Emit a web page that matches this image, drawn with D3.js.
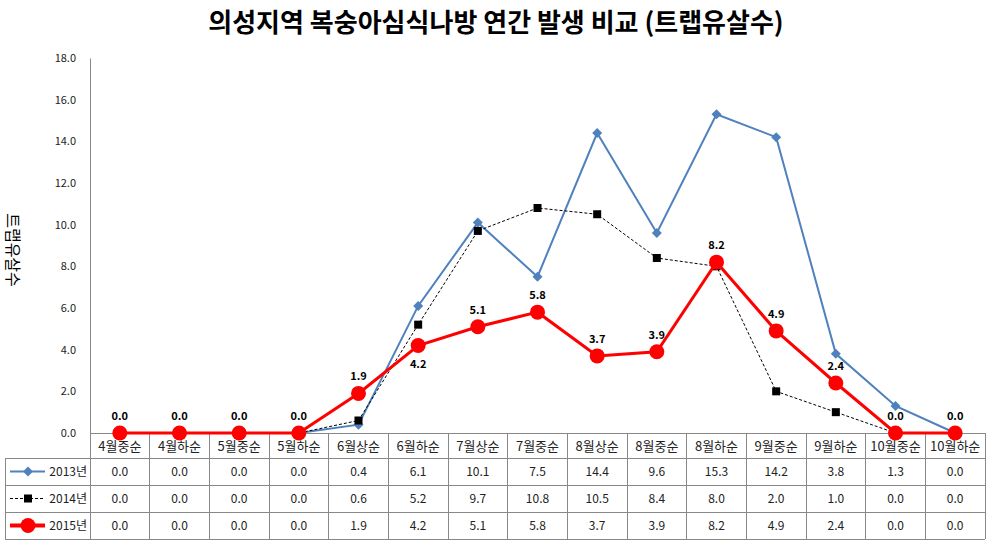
<!DOCTYPE html>
<meta charset="utf-8">
<style>
    body { margin: 0; background: #fff; }
    text { font-family: "Noto Sans CJK KR", "Noto Sans", sans-serif; }
    .tick text { font-size: 11px; fill: #222; }
    .cell { font-size: 12px; fill: #222; }
    .lbl { font-size: 11px; font-weight: bold; fill: #000; }
</style>
<body>
<script src="https://d3js.org/d3.v7.min.js"></script>
<script>
    var categories = ["4월중순", "4월하순", "5월중순", "5월하순", "6월상순", "6월하순", "7월상순", "7월중순",
        "8월상순", "8월중순", "8월하순", "9월중순", "9월하순", "10월중순", "10월하순"];
    var y2013 = [0.0, 0.0, 0.0, 0.0, 0.4, 6.1, 10.1, 7.5, 14.4, 9.6, 15.3, 14.2, 3.8, 1.3, 0.0];
    var y2014 = [0.0, 0.0, 0.0, 0.0, 0.6, 5.2, 9.7, 10.8, 10.5, 8.4, 8.0, 2.0, 1.0, 0.0, 0.0];
    var y2015 = [0.0, 0.0, 0.0, 0.0, 1.9, 4.2, 5.1, 5.8, 3.7, 3.9, 8.2, 4.9, 2.4, 0.0, 0.0];
    var seriesNames = ["2013년", "2014년", "2015년"];
    var yTicks = [0, 2, 4, 6, 8, 10, 12, 14, 16, 18];
    // label placement for 2015 values (1 = above, -1 = below)
    var labelSide = [1, 1, 1, 1, 1, -1, 1, 1, 1, 1, 1, 1, 1, 1, 1];

    var W = 992, H = 545;
    var pL = 90, pR = 985, pT = 58, pB = 433;
    var rowH = 27;

    var svg = d3.select("body").append("svg").attr("width", W).attr("height", H);

    var x = d3.scaleBand().domain(categories).range([pL, pR]);
    var y = d3.scaleLinear().domain([0, 18]).range([pB, pT]);

    svg.append("text")
        .attr("x", 496).attr("y", 32)
        .attr("text-anchor", "middle")
        .style("font-size", "26px").style("font-weight", "bold")
        .text("의성지역 복숭아심식나방 연간 발생 비교 (트랩유살수)");

    // y axis
    var yAxis = svg.append("g").attr("transform", "translate(" + pL + ",0)")
        .call(d3.axisLeft(y).tickValues(yTicks).tickFormat(d3.format(".1f")).tickSize(0).tickPadding(14));
    yAxis.select(".domain").attr("stroke", "#888");

    svg.append("text")
        .attr("transform", "translate(7,250) rotate(90)")
        .attr("text-anchor", "middle")
        .style("font-size", "16px")
        .text("트랩유살수");

    // table grid
    var grid = svg.append("g").attr("stroke", "#888").attr("fill", "none").attr("shape-rendering", "crispEdges");
    var tableBottom = pB + 25 + rowH * 3;
    grid.append("line").attr("x1", pL).attr("x2", pR).attr("y1", pB).attr("y2", pB);
    [0, 1, 2, 3].forEach(function(r) {
        var yy = pB + 25 + r * rowH;
        grid.append("line").attr("x1", 5).attr("x2", pR).attr("y1", yy).attr("y2", yy);
    });
    categories.forEach(function(c) {
        grid.append("line").attr("x1", x(c) + x.bandwidth()).attr("x2", x(c) + x.bandwidth())
            .attr("y1", pB).attr("y2", tableBottom);
    });
    grid.append("line").attr("x1", pL).attr("x2", pL).attr("y1", pB).attr("y2", tableBottom);
    grid.append("line").attr("x1", 5).attr("x2", 5).attr("y1", pB + 25).attr("y2", tableBottom);

    svg.selectAll(".cat").data(categories).enter().append("text")
        .attr("class", "cell")
        .attr("x", d => x(d) + x.bandwidth() / 2)
        .attr("y", pB + 18)
        .attr("text-anchor", "middle")
        .style("font-size", "13px")
        .text(d => d);

    var series = [
        { name: seriesNames[0], values: y2013, color: "#4F81BD", width: 2, dash: null, marker: "diamond" },
        { name: seriesNames[1], values: y2014, color: "#000", width: 1, dash: "3,2", marker: "square" },
        { name: seriesNames[2], values: y2015, color: "#FF0000", width: 3, dash: null, marker: "circle" }
    ];

    function marker(g, type, color) {
        if (type == "diamond") g.append("path").attr("d", "M0,-5L5,0L0,5L-5,0Z").attr("fill", color);
        else if (type == "square") g.append("rect").attr("x", -4).attr("y", -4).attr("width", 8).attr("height", 8).attr("fill", "#000");
        else g.append("circle").attr("r", 7.5).attr("fill", color);
    }

    var line = d3.line().x((d, i) => x(categories[i]) + x.bandwidth() / 2).y(d => y(d));

    series.forEach(function(s, si) {
        svg.append("path").datum(s.values)
            .attr("d", line)
            .attr("fill", "none")
            .attr("stroke", s.color)
            .attr("stroke-width", s.width)
            .attr("stroke-dasharray", s.dash);
        s.values.forEach(function(v, i) {
            var g = svg.append("g").attr("transform", "translate(" + (x(categories[i]) + x.bandwidth() / 2) + "," + y(v) + ")");
            marker(g, s.marker, s.color);
        });

        // table row
        var rowY = pB + 25 + si * rowH;
        var lg = svg.append("g");
        lg.append("line").attr("x1", 10).attr("x2", 45).attr("y1", rowY + rowH / 2).attr("y2", rowY + rowH / 2)
            .attr("stroke", s.color).attr("stroke-width", si == 2 ? 4 : s.width).attr("stroke-dasharray", s.dash);
        marker(lg.append("g").attr("transform", "translate(28," + (rowY + rowH / 2) + ")"), s.marker, s.color);
        svg.append("text").attr("class", "cell")
            .attr("x", 87).attr("y", rowY + rowH / 2 + 4)
            .attr("text-anchor", "end")
            .text(s.name);
        svg.selectAll(null).data(s.values).enter().append("text")
            .attr("class", "cell")
            .attr("x", (d, i) => x(categories[i]) + x.bandwidth() / 2)
            .attr("y", rowY + rowH / 2 + 4)
            .attr("text-anchor", "middle")
            .text(d => d3.format(".1f")(d));
    });

    // 2015 labels
    svg.selectAll(".lbl").data(y2015).enter().append("text")
        .attr("class", "lbl")
        .attr("x", (d, i) => x(categories[i]) + x.bandwidth() / 2)
        .attr("y", (d, i) => labelSide[i] > 0 ? y(d) - 13 : y(d) + 22)
        .attr("text-anchor", "middle")
        .text(d => d3.format(".1f")(d));
</script>
</body>
